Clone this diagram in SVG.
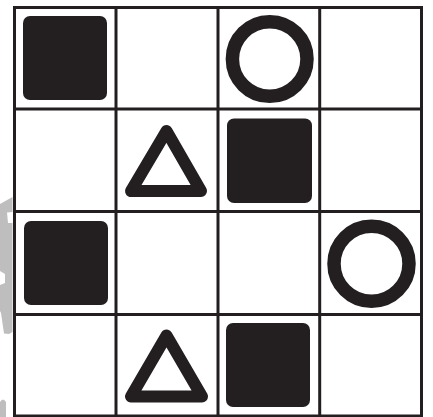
<svg xmlns="http://www.w3.org/2000/svg" width="433" height="417" viewBox="0 0 433 417">
  <style>
    .grid { stroke: #231f20; stroke-width: 3; fill: none; }
    .sq { fill: #231f20; }
    .ring { fill: none; stroke: #231f20; stroke-width: 13.5; }
    .tri { fill: none; stroke: #231f20; stroke-width: 12; stroke-linejoin: round; }
    .mark { fill: #bebebe; }
  </style>
  <rect width="433" height="417" fill="#ffffff"/>
  <g id="watermark">
    <path class="mark" d="M0,204 L12.5,197 L12.5,212 L7,212.5 L8,223 L12.5,223 L12.5,332 L9,334 L4,333.5 L1,313 L0,311 L0,285 L5,283 L5,274 L0,271 Z"/>
    <path class="mark" d="M0,402 Q3,397 6,402 L6,417 L0,417 Z"/>
  </g>
  <g id="grid">
    <rect class="grid" x="14.5" y="7.5" width="407" height="408.5"/>
    <line class="grid" x1="116" y1="7.5" x2="116" y2="416"/>
    <line class="grid" x1="218" y1="7.5" x2="218" y2="416"/>
    <line class="grid" x1="319.7" y1="7.5" x2="319.7" y2="416"/>
    <line class="grid" x1="14.5" y1="109" x2="421.5" y2="109"/>
    <line class="grid" x1="14.5" y1="211.5" x2="421.5" y2="211.5"/>
    <line class="grid" x1="14.5" y1="314.5" x2="421.5" y2="314.5"/>
  </g>
  <g id="connectors"></g>
  <g id="square-r1c1"><rect class="sq" x="23" y="16" width="84" height="84" rx="7"/></g>
  <g id="circle-r1c3"><circle class="ring" cx="269.7" cy="59" r="37.3"/></g>
  <g id="triangle-r2c2"><polygon class="tri" points="166.5,131 131,191 201,191"/></g>
  <g id="square-r2c3"><rect class="sq" x="227" y="118.5" width="85" height="84.5" rx="7"/></g>
  <g id="square-r3c1"><rect class="sq" x="24" y="221" width="84" height="84" rx="7"/></g>
  <g id="circle-r3c4"><circle class="ring" cx="371.5" cy="263.8" r="37.5"/></g>
  <g id="triangle-r4c2"><polygon class="tri" points="166.5,335.5 131,396.5 202,396.5"/></g>
  <g id="square-r4c3"><rect class="sq" x="226" y="323" width="84" height="84" rx="7"/></g>
</svg>
